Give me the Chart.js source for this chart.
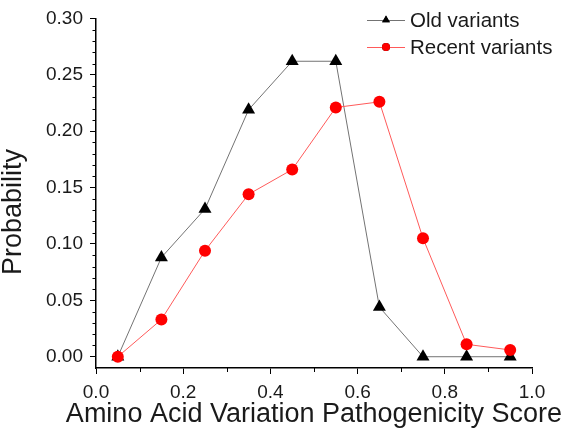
<!DOCTYPE html>
<html>
<head>
<meta charset="utf-8">
<script src="https://cdn.jsdelivr.net/npm/chart.js@4/dist/chart.umd.min.js"></script>
<style>
    html, body { margin: 0; padding: 0; background: #fff; }
    #wrap { width: 562px; height: 432px; }
</style>
</head>
<body>
<div id="wrap"><canvas id="chart" width="562" height="432"></canvas></div>
<script>
// data
var scores = [0.05, 0.15, 0.25, 0.35, 0.45, 0.55, 0.65, 0.75, 0.85, 0.95];
var old_variants = [0, 0.088, 0.131, 0.219, 0.262, 0.262, 0.044, 0, 0, 0];
var recent_variants = [0, 0.033, 0.094, 0.144, 0.166, 0.221, 0.226, 0.105, 0.011, 0.006];
var x_ticks = [0, 0.2, 0.4, 0.6, 0.8, 1.0];
var y_ticks = [0, 0.05, 0.10, 0.15, 0.20, 0.25, 0.30];
var x_minor = [0.1, 0.3, 0.5, 0.7, 0.9];
var x_title = "Amino Acid Variation Pathogenicity Score";

var font_family = "Arial, 'Liberation Sans', sans-serif";
var text_color = "#1a1a1a";

function toPoints(values) {
    return scores.map(function(s, i) { return { x: s, y: values[i] }; });
}

// minor ticks every 0.01 on y, between labels on x
var minorTicks = {
    id: "minorTicks",
    afterDraw: function(chart) {
        var ctx = chart.ctx;
        var xs = chart.scales.x, ys = chart.scales.y;
        var area = chart.chartArea;
        ctx.save();
        ctx.strokeStyle = "#000";
        ctx.lineWidth = 1;
        ctx.beginPath();
        for (var i = 1; i <= 30; i++) {
            if (i % 5 === 0) continue;
            var py = Math.round(ys.getPixelForValue(i / 100)) + 0.5;
            ctx.moveTo(area.left - 3.5, py);
            ctx.lineTo(area.left, py);
        }
        x_minor.forEach(function(v) {
            var px = Math.round(xs.getPixelForValue(v)) + 0.5;
            ctx.moveTo(px, area.bottom);
            ctx.lineTo(px, area.bottom + 4);
        });
        ctx.stroke();
        ctx.restore();
    }
};

// x title drawn by hand: the built-in one gets squeezed to the axis width
var xTitle = {
    id: "xTitle",
    afterDraw: function(chart) {
        var ctx = chart.ctx;
        var area = chart.chartArea;
        ctx.save();
        ctx.fillStyle = text_color;
        ctx.font = "27px " + font_family;
        ctx.textAlign = "center";
        ctx.textBaseline = "alphabetic";
        ctx.fillText(x_title, (area.left + area.right) / 2, 422);
        ctx.restore();
    }
};

// legend inside the plot, line + marker + label
var insideLegend = {
    id: "insideLegend",
    afterDraw: function(chart) {
        var ctx = chart.ctx;
        var rows = [
            { ds: chart.data.datasets[1], y: 20, r: 4.5 },
            { ds: chart.data.datasets[0], y: 47, r: 4 }
        ];
        ctx.save();
        rows.forEach(function(row) {
            ctx.strokeStyle = row.ds.borderColor;
            ctx.lineWidth = 1;
            ctx.beginPath();
            ctx.moveTo(367, row.y + 0.5);
            ctx.lineTo(405, row.y + 0.5);
            ctx.stroke();
            Chart.helpers.drawPoint(ctx, {
                pointStyle: row.ds.pointStyle,
                radius: row.r,
                rotation: 0,
                borderWidth: 0
            }, 386, row.y);
            ctx.fillStyle = row.ds.pointBackgroundColor;
            ctx.fill();
            ctx.fillStyle = text_color;
            ctx.font = "20.5px " + font_family;
            ctx.textBaseline = "middle";
            ctx.fillText(row.ds.label, 410, row.y + 1);
        });
        ctx.restore();
    }
};

var ctx = document.getElementById("chart");

var line_chart = new Chart(ctx, {
    type: "line",
    data: {
        datasets: [
            {
                label: "Recent variants",
                data: toPoints(recent_variants),
                borderColor: "#ff5a5a",
                borderWidth: 1,
                pointStyle: "circle",
                pointRadius: 6,
                pointBackgroundColor: "#ff0000",
                pointBorderColor: "#ff0000",
                pointBorderWidth: 0,
                order: 0
            },
            {
                label: "Old variants",
                data: toPoints(old_variants),
                borderColor: "#737373",
                borderWidth: 1,
                pointStyle: "triangle",
                pointRadius: 7.5,
                pointBackgroundColor: "#000",
                pointBorderColor: "#000",
                pointBorderWidth: 0,
                order: 1
            }
        ]
    },
    options: {
        responsive: false,
        animation: false,
        layout: { padding: { top: 12, right: 30, left: 0, bottom: 0 } },
        plugins: {
            legend: { display: false },
            tooltip: { enabled: false }
        },
        scales: {
            x: {
                type: "linear",
                min: 0,
                max: 1.0,
                afterBuildTicks: function(scale) {
                    scale.ticks = x_ticks.map(function(v) { return { value: v }; });
                },
                afterFit: function(scale) { scale.height = 64; },
                border: { display: true, color: "#000", width: 1.5 },
                grid: { display: true, drawOnChartArea: false, drawTicks: true, tickLength: 6, tickColor: "#000" },
                ticks: {
                    padding: 7,
                    color: text_color,
                    font: { family: font_family, size: 19 },
                    callback: function(v) { return v.toFixed(1); }
                },
                title: { display: false }
            },
            y: {
                type: "linear",
                min: -0.01,
                max: 0.30,
                afterBuildTicks: function(scale) {
                    scale.ticks = y_ticks.map(function(v) { return { value: v }; });
                },
                afterFit: function(scale) { scale.width = 96; },
                border: { display: true, color: "#000", width: 1.5 },
                grid: { display: true, drawOnChartArea: false, drawTicks: true, tickLength: 6, tickColor: "#000" },
                ticks: {
                    padding: 7,
                    color: text_color,
                    font: { family: font_family, size: 19 },
                    callback: function(v) { return v.toFixed(2); }
                },
                title: {
                    display: true,
                    text: "Probability     ",
                    color: text_color,
                    font: { family: font_family, size: 27, lineHeight: 1 },
                    padding: { top: 0, bottom: 0 }
                }
            }
        }
    },
    plugins: [minorTicks, xTitle, insideLegend]
});
</script>
</body>
</html>
